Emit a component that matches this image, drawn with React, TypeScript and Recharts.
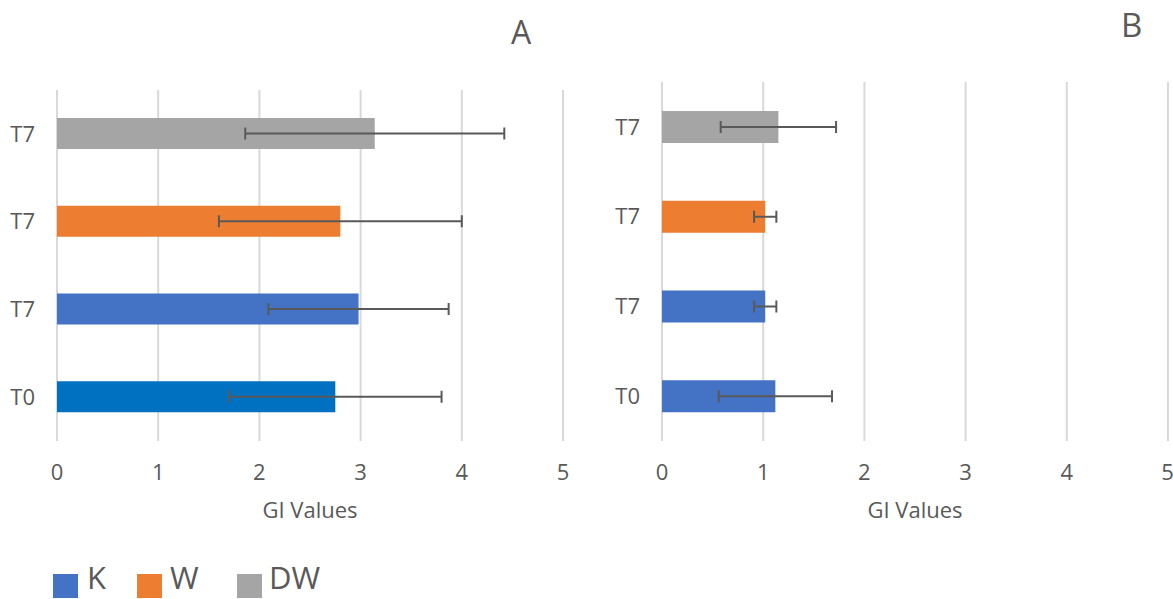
import React from 'react';
import { BarChart, Bar, XAxis, YAxis, CartesianGrid, ErrorBar, Cell } from 'recharts';

const rowIds = ['dw', 'w', 'k', 't0'];
const rowLabels = ['T7', 'T7', 'T7', 'T0'];
const valuesA = [3.14, 2.8, 2.98, 2.75];
const errorsA = [1.28, 1.2, 0.89, 1.05];
const valuesB = [1.15, 1.02, 1.02, 1.12];
const errorsB = [0.57, 0.11, 0.11, 0.56];
const colorsA = ['#A5A5A5', '#ED7D31', '#4472C4', '#0070C0'];
const colorsB = ['#A5A5A5', '#ED7D31', '#4472C4', '#4472C4'];
const xTicks = [0, 1, 2, 3, 4, 5];
const legendNames = ['K', 'W', 'DW'];
const legendColors = ['#4472C4', '#ED7D31', '#A5A5A5'];

const dataA = rowIds.map((id, i) => ({ id, label: rowLabels[i], value: valuesA[i], err: errorsA[i] }));
const dataB = rowIds.map((id, i) => ({ id, label: rowLabels[i], value: valuesB[i], err: errorsB[i] }));

const FONT = '"Open Sans", sans-serif';
const TEXT = '#595959';

const labelOf = (id: string) => rowLabels[rowIds.indexOf(id)];

const legendSquareX = [53, 137, 237];
const legendTextX = [87, 170, 269];

function Panel({ data, colors, width, margin, yWidth, barSize }: any) {
  return (
    <BarChart
      width={width}
      height={599}
      data={data}
      layout="vertical"
      margin={margin}
      style={{ fontFamily: FONT }}
    >
      <CartesianGrid horizontal={false} stroke="#D9D9D9" strokeWidth={2} />
      <XAxis
        type="number"
        domain={[0, 5]}
        ticks={xTicks}
        axisLine={false}
        tickLine={false}
        tickSize={0}
        tickMargin={23}
        height={82}
        tick={{ fill: TEXT, fontSize: 22, fontFamily: FONT }}
        label={{ value: 'GI Values', position: 'insideBottom', offset: 5, fill: TEXT, fontSize: 22, fontFamily: FONT }}
      />
      <YAxis
        type="category"
        dataKey="id"
        width={yWidth}
        axisLine={false}
        tickLine={false}
        tickSize={0}
        tickMargin={22}
        tickFormatter={labelOf}
        tick={{ fill: TEXT, fontSize: 22, fontFamily: FONT }}
      />
      <Bar dataKey="value" barSize={barSize} isAnimationActive={false}>
        {data.map((d: any, i: number) => (
          <Cell key={d.id} fill={colors[i]} />
        ))}
        <ErrorBar dataKey="err" direction="x" width={6} stroke="#595959" strokeWidth={2} />
      </Bar>
    </BarChart>
  );
}

export default function App() {
  return (
    <div style={{ position: 'absolute', left: 0, top: 0, width: 1173, height: 599, background: '#fff', overflow: 'hidden', fontFamily: FONT }}>
      <div style={{ position: 'absolute', left: 0, top: 0 }}>
        <Panel data={dataA} colors={colorsA} width={600} margin={{ top: 90, right: 37, bottom: 76, left: 0 }} yWidth={57} barSize={31} />
      </div>
      <div style={{ position: 'absolute', left: 600, top: 0 }}>
        <Panel data={dataB} colors={colorsB} width={573} margin={{ top: 82, right: 5, bottom: 76, left: 0 }} yWidth={62} barSize={32} />
      </div>
      <div style={{ position: 'absolute', left: 511, top: 16, fontSize: 32, color: TEXT, lineHeight: '32px' }}>A</div>
      <div style={{ position: 'absolute', left: 1121, top: 8, fontSize: 33, color: TEXT, lineHeight: '33px' }}>B</div>
      {legendNames.map((n, i) => (
        <React.Fragment key={n}>
          <div style={{ position: 'absolute', left: legendSquareX[i], top: 574, width: 25, height: 24, background: legendColors[i] }} />
          <div style={{ position: 'absolute', left: legendTextX[i], top: 562, fontSize: 31, lineHeight: '31px', color: TEXT }}>{n}</div>
        </React.Fragment>
      ))}
    </div>
  );
}
